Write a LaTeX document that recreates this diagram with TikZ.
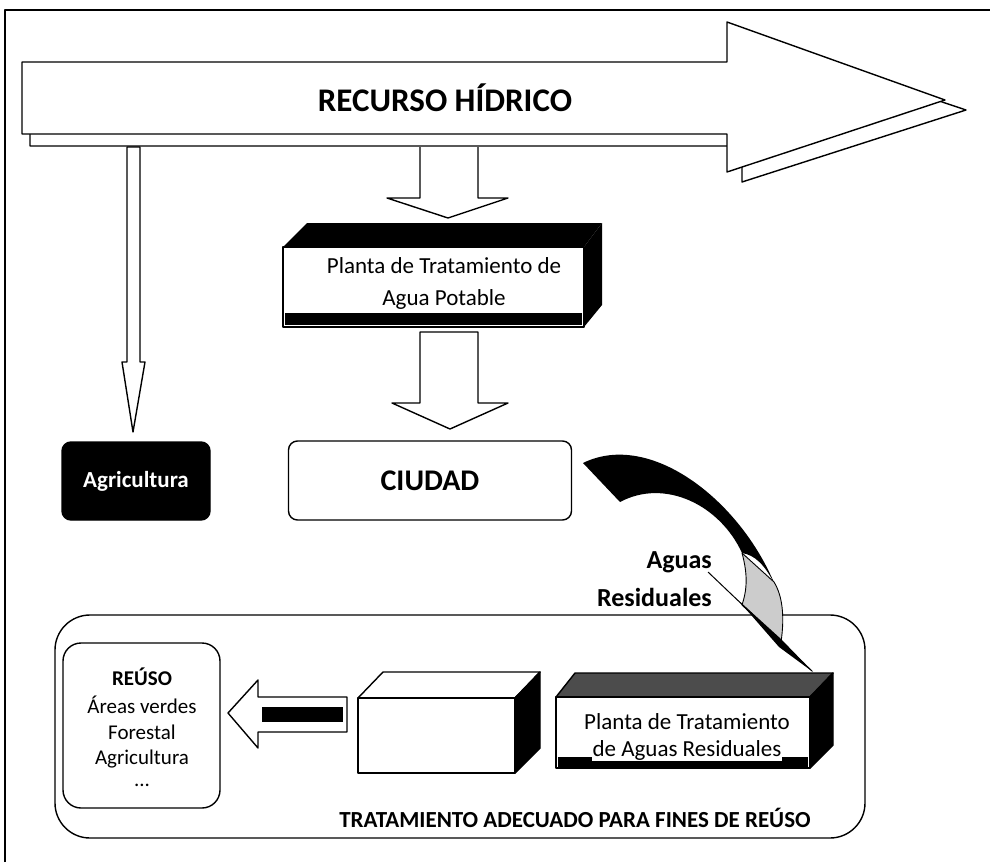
\documentclass[tikz,border=0pt]{standalone}
\usepackage{fontspec}
\setmainfont{Carlito}
\usetikzlibrary{calc}
\newcommand{\fsz}[1]{\fontsize{#1}{#1}\selectfont}
\begin{document}
\begin{tikzpicture}[x=1pt,y=-1pt,line join=round,
  ol/.style={draw=black,line width=1.4pt},
  thin ol/.style={draw=black,line width=0.9pt},
  lbl/.style={inner sep=0pt,align=center},
  rbox/.style={draw=black,line width=1.4pt,rounded corners=9pt}]
\useasboundingbox (0,0) rectangle (990,862);
% frame
\draw[line width=1.6pt] (5,862) -- (5,10) -- (990,10);

% ---- big arrow (shadow then main)
\draw[ol,fill=white] (30,74) -- (740,74) -- (740,34) -- (966,110) -- (742,182) -- (742,146) -- (30,146) -- cycle;
\draw[ol,fill=white] (22,62) -- (727,62) -- (727,22) -- (945,100) -- (727,172) -- (727,134) -- (22,134) -- cycle;
\node[lbl] (rh) at (445,98) {\fsz{33}\bfseries RECURSO HÍDRICO};

% ---- thin arrow to Agricultura
\draw[ol,fill=white] (127,147) -- (127,362) -- (122,362) -- (133,432) -- (145,362) -- (140,362) -- (140,147) -- cycle;

% ---- block arrow down 1
\draw[ol,fill=white] (420,147) -- (420,198) -- (387,198) -- (448,218) -- (508,198) -- (478,198) -- (478,147);

% ---- Planta agua potable box
\fill[black] (283,247) -- (307,223) -- (602,223) -- (584,247) -- cycle;
\draw[ol,fill=white] (283,247) rectangle (584,327);
\fill[black] (285,313) rectangle (582,325);
\fill[black] (584,247) -- (602,223) -- (602,305) -- (584,327) -- cycle;
\node[lbl] (pap1) at (444,266) {\fsz{23}Planta de Tratamiento de};
\node[lbl,fill=white,inner sep=1pt] (pap2) at (444,299) {\fsz{23}Agua Potable};

% ---- block arrow down 2
\draw[ol,fill=white] (420,332) -- (420,403) -- (392,403) -- (450,429) -- (508,403) -- (478,403) -- (478,332) -- cycle;

% ---- Agricultura / CIUDAD
\node[rbox,fill=black,minimum width=148pt,minimum height=78pt] (agr) at (136,481) {};
\node[lbl,text=white] at (agr.center) {\fsz{23}\bfseries Agricultura};
\node[rbox,fill=white,minimum width=283pt,minimum height=79pt] (ciu) at (430,480.5) {};
\node[lbl] at (ciu.center) {\fsz{30}\bfseries CIUDAD};

% ---- container
\node[draw=black,line width=1.4pt,rounded corners=35pt,minimum width=810pt,minimum height=223pt] (cont) at (460,726.5) {};
\node[lbl] (tad) at (575,818) {\fsz{23}\bfseries TRATAMIENTO ADECUADO PARA FINES DE REÚSO};

% ---- swoosh (Aguas residuales)
\fill[black] (583,463) .. controls (650,430) and (740,500) .. (775,585)
   .. controls (765,565) and (755,555) .. (742,553)
   .. controls (720,505) and (665,478) .. (620,502) -- cycle;
\draw[thin ol,fill=gray!40] (742,553) .. controls (748,575) and (747,590) .. (742,605)
   -- (781,642) .. controls (785,615) and (782,595) .. (774,582) -- cycle;
\draw[line width=1pt] (708,572) -- (812,671);
\fill[black] (738,600) -- (781,639) -- (813,672) -- (779,647) -- cycle;
\node[lbl,anchor=east] (ag1) at (712,562) {\fsz{26}\bfseries Aguas};
\node[lbl,anchor=east] (ag2) at (712,597) {\fsz{26}\bfseries Residuales};

% ---- REUSO box
\node[draw=black,line width=1.4pt,rounded corners=18pt,minimum width=157pt,minimum height=165pt] (reu) at (141.5,725.5) {};
\node[lbl] (reut) at (142,677) {\fsz{21}\bfseries REÚSO};
\node[lbl] at (142,705) {\fsz{21}Áreas verdes};
\node[lbl] at (142,732) {\fsz{21}Forestal};
\node[lbl] at (142,759) {\fsz{21}Agricultura};
\node[lbl] at (142,785) {\fsz{21}...};

% ---- left arrow
\draw[ol,fill=white] (228,713) -- (258,680) -- (258,697) -- (347,697) -- (347,732) -- (258,732) -- (258,748) -- cycle;
\fill[black] (262,707) rectangle (343,722);

% ---- middle empty box
\draw[ol,fill=white] (358,698) -- (383,672) -- (540,672) -- (515,698) -- cycle;
\draw[ol,fill=white] (358,698) rectangle (515,773);
\draw[ol,fill=black] (515,698) -- (540,672) -- (540,748) -- (515,773) -- cycle;

% ---- Planta aguas residuales box
\draw[ol,fill=black!70] (556,697) -- (575,673) -- (833,673) -- (810,697) -- cycle;
\draw[ol,fill=white] (556,697) rectangle (810,768);
\fill[black] (558,757) rectangle (808,767);
\draw[ol,fill=black] (810,697) -- (833,673) -- (833,745) -- (810,768) -- cycle;
\node[lbl] (par1) at (687,722) {\fsz{23}Planta de Tratamiento};
\node[lbl,fill=white,inner sep=1pt] (par2) at (687,750) {\fsz{23}de Aguas Residuales};
\end{tikzpicture}
\end{document}
